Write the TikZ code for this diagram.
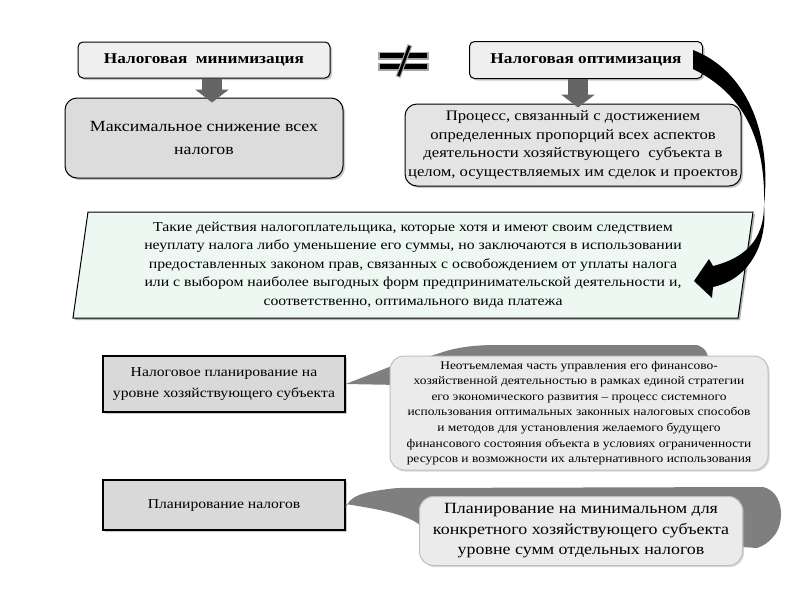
\documentclass[tikz,border=0pt]{standalone}
\usepackage{fontspec}
\setmainfont[FakeStretch=1.15]{Liberation Serif}
\usetikzlibrary{shadows,arrows.meta,calc}
\definecolor{hdrfill}{HTML}{EFEFEF}
\definecolor{boxfill}{HTML}{DCDCDC}
\definecolor{procfill}{HTML}{E4E4E4}
\definecolor{mint}{HTML}{EEF8F3}
\definecolor{sqfill}{HTML}{D9D9D9}
\definecolor{callfill}{HTML}{EBEBEB}
\definecolor{blobgray}{HTML}{7F7F7F}
\definecolor{arrgray}{HTML}{656565}
\begin{document}
\begin{tikzpicture}[x=1pt,y=-1pt,
  shd/.style={drop shadow={shadow xshift=2pt,shadow yshift=-2pt,fill=black!35,opacity=0.6}},
  hdr/.style={draw=black,line width=1pt,rounded corners=5pt,fill=hdrfill,shd,
    font=\bfseries\fontsize{15}{18}\selectfont,inner sep=0pt},
  rbox/.style={draw=black,line width=1pt,rounded corners=12pt,shd,align=center,inner sep=0pt},
  sqbox/.style={draw=black,line width=1.3pt,fill=sqfill,shd,align=center,inner sep=0pt,
    font=\fontsize{13.6}{21}\selectfont},
  callout/.style={draw=black!25,line width=1pt,rounded corners=14pt,fill=callfill,align=center,inner sep=0pt,
    drop shadow={shadow xshift=1.5pt,shadow yshift=-1.5pt,fill=black!30,opacity=0.5}},
  blockarrow/.style={line width=20pt,draw=arrgray,-{Triangle[width=33pt,length=13pt]}}
]
\useasboundingbox (0,0) rectangle (800,600);

% top boxes
\node[hdr,minimum width=252,minimum height=36] (min) at (204,60) {Налоговая\ \ минимизация};
\node[hdr,minimum width=233,minimum height=37] (opt) at (586,60) {Налоговая оптимизация};
\node[rbox,fill=boxfill,minimum width=278,minimum height=80,font=\fontsize{15.5}{23}\selectfont] (max) at (204,138)
  {Максимальное снижение всех\\налогов};
\node[rbox,fill=procfill,minimum width=336,minimum height=82,font=\fontsize{14.5}{18.7}\selectfont] (proc) at (573,145)
  {Процесс, связанный с достижением\\определенных пропорций всех аспектов\\деятельности хозяйствующего\ \ субъекта в\\целом, осуществляемых им сделок и проектов};

% block arrows
\draw[blockarrow] ([xshift=8pt]min.south) -- ([xshift=8pt,yshift=-5pt]max.north);
\draw[blockarrow] ([xshift=-8pt]opt.south) -- ([xshift=5pt,yshift=-4pt]proc.north);

% not-equal sign
\draw[line width=8pt,black!35] (378,55.5) -- (429,55.5) (378,66.5) -- (429,66.5);
\draw[line width=4.5pt,black] (380,55.5) -- (427,55.5) (380,66.5) -- (427,66.5);
\draw[line width=5pt,black!35] (398,77) -- (410,45);
\draw[line width=2.6pt,black] (398.5,76) -- (409.5,46);

% parallelogram
\fill[black!30] (90,214) -- (755,214) -- (740,320) -- (75,320) -- cycle;
\filldraw[fill=mint,draw=black,line width=1pt] (88,212) -- (753,212) -- (738,318) -- (73,318) -- cycle;
\node[align=center,font=\fontsize{13.7}{18.4}\selectfont,inner sep=0pt] (def) at (413,265)
  {Такие действия налогоплательщика, которые хотя и имеют своим следствием\\
   неуплату налога либо уменьшение его суммы, но заключаются в использовании\\
   предоставленных законом прав, связанных с освобождением от уплаты налога\\
   или с выбором наиболее выгодных форм предпринимательской деятельности и,\\
   соответственно, оптимального вида платежа};

% curved black arrow
\fill[black] ([xshift=-10pt,yshift=-1pt]opt.east) -- ([xshift=-10pt,yshift=10pt]opt.east)
  .. controls (745,70) and (772,130) .. (764,205)
  .. controls (766,135) and (740,92) .. ([xshift=-10pt,yshift=-9pt]opt.east) -- cycle;
\fill[black] (764,205) .. controls (764,240) and (745,258) .. (713,266)
  -- (709,259) -- (694,281) -- (712,298) -- (713,287)
  .. controls (746,280) and (768,248) .. (764,205) -- cycle;

% lower left boxes
\node[sqbox,minimum width=242,minimum height=56] (plan1) at (224,384)
  {Налоговое планирование на\\уровне хозяйствующего субъекта};
\node[sqbox,minimum width=242,minimum height=50] (plan2) at (224,505) {Планирование налогов};

% callout blobs
\fill[blobgray] (plan1.east) -- (397,364) .. controls (420,360) and (430,356) .. (440,353)
  .. controls (460,346) and (480,345) .. (497,345) -- (697,345)
  .. controls (703,347) and (706,350) .. (708,356) -- (400,385) -- cycle;
\fill[blobgray] ([yshift=-3pt]plan2.east) .. controls (350,496) and (360,492) .. (397,488)
  -- (763,487) .. controls (785,492) and (785,525) .. (773,537)
  .. controls (768,543) and (763,546) .. (757,548) -- (420,525)
  .. controls (405,513) and (370,508) .. ([yshift=1pt]plan2.east) -- cycle;

% callouts
\node[callout,minimum width=378,minimum height=114,font=\fontsize{11.7}{15.6}\selectfont] (c1) at (579,413)
  {Неотъемлемая часть управления его финансово-\\
   хозяйственной деятельностью в рамках единой стратегии\\
   его экономического развития – процесс системного\\
   использования оптимальных законных налоговых способов\\
   и методов для установления желаемого будущего\\
   финансового состояния объекта в условиях ограниченности\\
   ресурсов и возможности их альтернативного использования};
\node[callout,minimum width=323,minimum height=69,font=\fontsize{15.6}{20.5}\selectfont] (c2) at (581,531)
  {Планирование на минимальном для\\конкретного хозяйствующего субъекта\\уровне сумм отдельных налогов};
\end{tikzpicture}
\end{document}
